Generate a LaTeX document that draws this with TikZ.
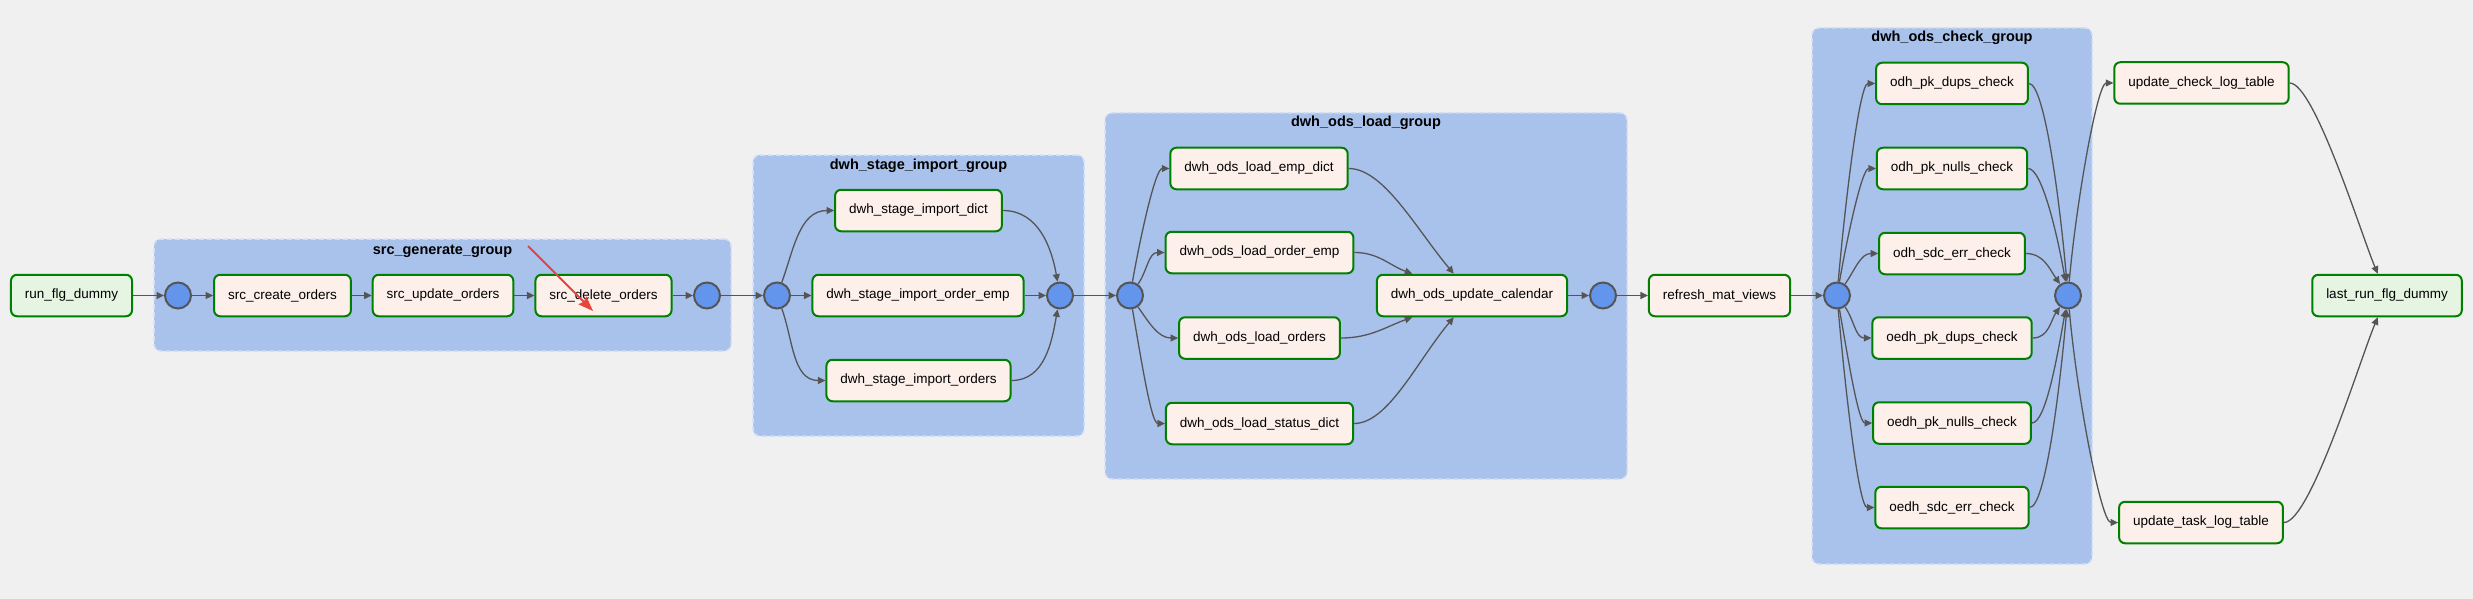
\documentclass[tikz,border=0pt]{standalone}
\usepackage{fontspec}
\setmainfont{Liberation Sans}
\usetikzlibrary{arrows.meta}
\definecolor{canvas}{HTML}{F0F0F0}
\definecolor{grpfill}{HTML}{A9C2EC}
\definecolor{grpedge}{HTML}{D2DEF5}
\definecolor{pyfill}{HTML}{FDEFEA}
\definecolor{emptyfill}{HTML}{E6F5E2}
\definecolor{okgreen}{HTML}{008000}
\definecolor{joinfill}{HTML}{6495ED}
\definecolor{darkline}{HTML}{555555}
\definecolor{markred}{HTML}{E8443A}
\tikzset{
 task/.style={draw=okgreen,line width=2pt,fill=pyfill,rounded corners=6pt,minimum height=41.5pt,inner xsep=14pt,font=\fontsize{13.5}{16}\selectfont},
 emptytask/.style={task,fill=emptyfill},
 joinpt/.style={circle,draw=darkline,line width=2pt,fill=joinfill,minimum size=26pt,inner sep=0pt},
 grp/.style={draw=grpedge,dash pattern=on 5pt off 3pt,line width=1.5pt,fill=grpfill,rounded corners=7pt,inner sep=0pt},
 grplabel/.style={anchor=base,inner sep=0pt,font=\fontsize{14.5}{17}\selectfont\bfseries},
 edge/.style={draw=darkline,line width=1.3pt,-{Triangle[length=7.5pt,width=7pt]}},
}
\begin{document}
\begin{tikzpicture}[x=1pt,y=1pt]
 \useasboundingbox (0,0) rectangle (2473,-599);
 \fill[canvas] (0,0) rectangle (2473,-599);
 % task groups
 \node[grp,minimum width=577pt,minimum height=112pt] (srcgrp) at (442.5,-295) {};
 \node[grplabel] (srclbl) at (442.5,-254) {src\_generate\_group};
 \node[grp,minimum width=331pt,minimum height=281pt] (stagegrp) at (918.5,-295.5) {};
 \node[grplabel] (stagelbl) at (918.5,-169) {dwh\_stage\_import\_group};
 \node[grp,minimum width=522pt,minimum height=366pt] (loadgrp) at (1366,-296) {};
 \node[grplabel] (loadlbl) at (1366,-127) {dwh\_ods\_load\_group};
 \node[grp,minimum width=280pt,minimum height=536pt] (checkgrp) at (1952,-296) {};
 \node[grplabel] (checklbl) at (1952,-42) {dwh\_ods\_check\_group};
 % tasks
 \node[emptytask] (run) at (71.5,-295.5) {run\_flg\_dummy};
 \node[joinpt] (c1) at (178,-295.5) {};
 \node[task] (create) at (282.5,-295.5) {src\_create\_orders};
 \node[task] (upd) at (443,-295.5) {src\_update\_orders};
 \node[task] (del) at (603.5,-295.5) {src\_delete\_orders};
 \node[joinpt] (c2) at (707,-295.5) {};
 \node[joinpt] (c3) at (777,-295.5) {};
 \node[task] (sdict) at (918.5,-210.5) {dwh\_stage\_import\_dict};
 \node[task] (semp) at (918,-295.5) {dwh\_stage\_import\_order\_emp};
 \node[task] (sord) at (918.5,-380.5) {dwh\_stage\_import\_orders};
 \node[joinpt] (c4) at (1060,-295.5) {};
 \node[joinpt] (c5) at (1130,-295.5) {};
 \node[task] (ldict) at (1259,-168.5) {dwh\_ods\_load\_emp\_dict};
 \node[task] (lemp) at (1259.5,-252.5) {dwh\_ods\_load\_order\_emp};
 \node[task] (lord) at (1259.5,-338) {dwh\_ods\_load\_orders};
 \node[task] (lstat) at (1259.5,-423.5) {dwh\_ods\_load\_status\_dict};
 \node[task] (cal) at (1472,-295.5) {dwh\_ods\_update\_calendar};
 \node[joinpt] (c6) at (1603,-295.5) {};
 \node[task] (refresh) at (1719.5,-295.5) {refresh\_mat\_views};
 \node[joinpt] (c7) at (1837,-295.5) {};
 \node[task] (pkdups) at (1952,-83.5) {odh\_pk\_dups\_check};
 \node[task] (pknulls) at (1952,-168.5) {odh\_pk\_nulls\_check};
 \node[task] (sdcerr) at (1952,-253.5) {odh\_sdc\_err\_check};
 \node[task] (epkdups) at (1952,-338) {oedh\_pk\_dups\_check};
 \node[task] (epknulls) at (1952,-423) {oedh\_pk\_nulls\_check};
 \node[task] (esdcerr) at (1952,-507.5) {oedh\_sdc\_err\_check};
 \node[joinpt] (c8) at (2068,-295.5) {};
 \node[task] (chklog) at (2201.5,-83) {update\_check\_log\_table};
 \node[task] (tasklog) at (2201,-522.5) {update\_task\_log\_table};
 \node[emptytask] (lastrun) at (2387,-295.5) {last\_run\_flg\_dummy};
 % dependencies
 \draw[edge] (run) -- (c1);
 \draw[edge] (c1) -- (create);
 \draw[edge] (create) -- (upd);
 \draw[edge] (upd) -- (del);
 \draw[edge] (del) -- (c2);
 \draw[edge] (c2) -- (c3);
 \draw[edge] (c3) to[out=70,in=180] (sdict);
 \draw[edge] (c3) -- (semp);
 \draw[edge] (c3) to[out=-70,in=180] (sord);
 \draw[edge] (sdict) to[out=0,in=100] (c4);
 \draw[edge] (semp) -- (c4);
 \draw[edge] (sord) to[out=0,in=-100] (c4);
 \draw[edge] (c4) -- (c5);
 \draw[edge] (c5) to[out=80,in=180,in looseness=0.3] (ldict);
 \draw[edge] (c5) to[out=55,in=180] (lemp);
 \draw[edge] (c5) to[out=-55,in=180] (lord);
 \draw[edge] (c5) to[out=-80,in=180,in looseness=0.3] (lstat);
 \draw[edge] (ldict) to[out=0,in=130,out looseness=0.6] (cal);
 \draw[edge] (lemp) to[out=0,in=160] (cal);
 \draw[edge] (lord) to[out=0,in=-160] (cal);
 \draw[edge] (lstat) to[out=0,in=-130,out looseness=0.6] (cal);
 \draw[edge] (cal) -- (c6);
 \draw[edge] (c6) -- (refresh);
 \draw[edge] (refresh) -- (c7);
 \draw[edge] (c7) to[out=85,in=180,in looseness=0.2] (pkdups);
 \draw[edge] (c7) to[out=80,in=180,in looseness=0.3] (pknulls);
 \draw[edge] (c7) to[out=55,in=180] (sdcerr);
 \draw[edge] (c7) to[out=-55,in=180] (epkdups);
 \draw[edge] (c7) to[out=-80,in=180,in looseness=0.3] (epknulls);
 \draw[edge] (c7) to[out=-85,in=180,in looseness=0.2] (esdcerr);
 \draw[edge] (pkdups) to[out=0,in=95,out looseness=0.2] (c8);
 \draw[edge] (pknulls) to[out=0,in=100,out looseness=0.3] (c8);
 \draw[edge] (sdcerr) to[out=0,in=125] (c8);
 \draw[edge] (epkdups) to[out=0,in=-125] (c8);
 \draw[edge] (epknulls) to[out=0,in=-100,out looseness=0.3] (c8);
 \draw[edge] (esdcerr) to[out=0,in=-95,out looseness=0.2] (c8);
 \draw[edge] (c8) to[out=85,in=180,in looseness=0.2] (chklog);
 \draw[edge] (c8) to[out=-85,in=180,in looseness=0.2] (tasklog);
 \draw[edge] (chklog) to[out=0,in=113,out looseness=0.3,in looseness=0.5] (lastrun);
 \draw[edge] (tasklog) to[out=0,in=-113,out looseness=0.3,in looseness=0.5] (lastrun);
 % red marker
 \coordinate (marktail) at (528,-246);
 \coordinate (markhead) at (593,-311);
 \draw[markred,line width=1.8pt,-{Stealth[length=15pt,width=11pt,inset=2pt]}] (marktail) -- (markhead);
\end{tikzpicture}
\end{document}
